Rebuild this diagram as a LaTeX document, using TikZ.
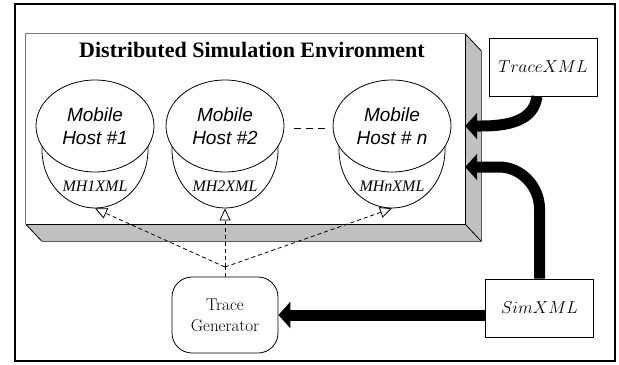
\documentclass[tikz,border=0pt]{standalone}
\usepackage{fontspec}
\usetikzlibrary{arrows.meta,shapes.geometric,calc}
\newfontfamily\hostfont{Liberation Sans}
\newfontfamily\seriffont{Liberation Serif}
\definecolor{sidegray}{HTML}{C0C0C0}
\definecolor{edgegray}{HTML}{7A7A7A}

\tikzset{
  hosttop/.style={ellipse, draw, fill=white, line width=0.8bp,
    minimum width=118bp, minimum height=92bp, inner sep=0pt, align=center,
    font=\hostfont\itshape\fontsize{19bp}{23bp}\selectfont},
  hostcup/.style={ellipse, draw, fill=white, line width=0.8bp,
    minimum width=106bp, minimum height=116bp, inner sep=0pt},
  xmltag/.style={inner sep=0pt, font=\seriffont\itshape\fontsize{16bp}{18bp}\selectfont},
  xmlbox/.style={draw, fill=white, line width=0.8bp, minimum width=108bp,
    minimum height=58bp, inner sep=0pt, font=\fontsize{18bp}{20bp}\selectfont},
  genbox/.style={draw, fill=white, line width=0.8bp, rounded corners=20bp,
    minimum width=106bp, minimum height=76bp, inner sep=0pt, align=center,
    font=\fontsize{17bp}{21bp}\selectfont},
  feed/.style={line width=11bp, -{Triangle[width=26bp,length=12bp]}},
  tracelink/.style={line width=0.8bp, dash pattern=on 4bp off 3bp,
    -{Triangle[width=11bp,length=12bp,fill=white]}},
}

\begin{document}
\begin{tikzpicture}[x=1bp,y=-1bp]
  \useasboundingbox (0,0) rectangle (619,364);

  % outer frame
  \draw[line width=2bp] (15,4) rectangle (615,361);

  % simulation platform: front face plus shaded right and bottom faces
  \node[minimum width=439bp, minimum height=190bp, inner sep=0pt] (env) at (245.5,129) {};
  \path (env.north east) ++(16,17) coordinate (ne2);
  \path (env.south east) ++(16,17) coordinate (se2);
  \path (env.south west) ++(16,17) coordinate (sw2);
  \fill[sidegray] (env.north east) -- (ne2) -- (se2) -- (env.south east) -- cycle;
  \fill[sidegray] (env.south west) -- (env.south east) -- (se2) -- (sw2) -- cycle;
  \draw[edgegray, line width=1bp] (env.south west) -- (env.north west) -- (env.north east);
  \draw[line width=1bp] (env.north east) -- (env.south east) -- (env.south west);
  \draw[line width=0.8bp] (env.north east) -- (ne2);
  \draw[line width=0.8bp] (env.south east) -- (se2);
  \draw[line width=0.8bp] (env.south west) -- (sw2);
  \draw[black!65, line width=1bp] (ne2) -- (se2) -- (sw2);

  \node[anchor=base, inner sep=0pt, font=\seriffont\bfseries\fontsize{22bp}{24bp}\selectfont]
    (title) at (252,57) {Distributed Simulation Environment};

  % mobile hosts
  \node[hostcup] (cup1) at (95,150) {};
  \node[xmltag] (mh1) at (95,186) {MH1XML};
  \node[hosttop] (host1) at (95,126) {Mobile\\Host \#1};

  \node[hostcup] (cup2) at (225,150) {};
  \node[xmltag] (mh2) at (225,186) {MH2XML};
  \node[hosttop] (host2) at (225,126) {Mobile\\Host \#2};

  \node[hostcup] (cupn) at (392,150) {};
  \node[xmltag] (mhn) at (392,186) {MHnXML};
  \node[hosttop] (hostn) at (392,126) {Mobile\\Host \# n};

  \draw[line width=0.8bp, dash pattern=on 7bp off 5bp]
    ([xshift=10bp,yshift=-2bp]host2.east) -- ([xshift=-8bp,yshift=-2bp]hostn.west);

  % XML sources and trace generator
  \node[xmlbox] (trace) at (543,67) {$TraceXML$};
  \node[xmlbox] (sim) at (539.5,308) {$SimXML$};
  \node[genbox] (gen) at (225,315) {Trace\\Generator};

  % dashed trace links
  \coordinate (split) at (225,267);
  \draw[line width=0.8bp, dash pattern=on 4bp off 3bp] (gen.north) -- (split);
  \draw[tracelink] (split) -- (cup1.south);
  \draw[tracelink] (split) -- (cup2.south);
  \draw[tracelink] (split) -- (cupn.south);

  % heavy feeds
  \coordinate (in1) at ([yshift=3bp]env.east);
  \coordinate (in2) at ([yshift=-38bp]env.east);
  \draw[feed] ([xshift=-6bp]trace.south) .. controls +(-3,24) and +(28,0) .. ([xshift=16bp]in1) -- (in1);
  \draw[feed] (sim.north) -- ++(0,-70) .. controls +(0,-22) and +(22,0) .. ([xshift=34bp]in2) -- (in2);
  \draw[feed] (sim.west |- gen.east) -- (gen.east);
\end{tikzpicture}
\end{document}
